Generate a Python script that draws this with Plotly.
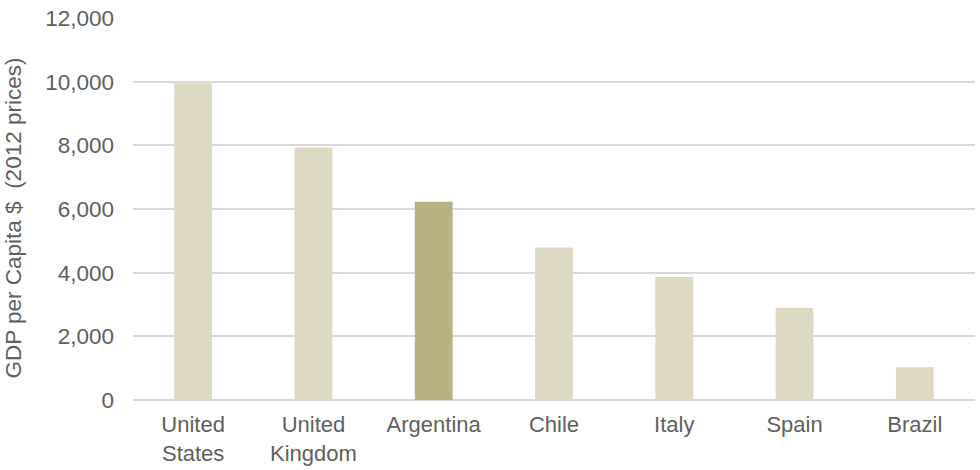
import plotly.graph_objects as go

# GDP per capita, 2012 prices
countries = ["United<br>States", "United<br>Kingdom", "Argentina", "Chile", "Italy", "Spain", "Brazil"]
gdp_per_capita = [9950, 7930, 6230, 4790, 3860, 2900, 1030]
highlight = "Argentina"

y_ticks = [0, 2000, 4000, 6000, 8000, 10000, 12000]
y_title = "GDP per Capita $ \u00a0(2012 prices)"

BAR = "#DDD9C3"
BAR_HI = "#B8B180"
TEXT = "#606060"
GRID = "#D9D9D9"

colors = [BAR_HI if c == highlight else BAR for c in countries]

fig = go.Figure(go.Bar(
    x=countries,
    y=gdp_per_capita,
    marker_color=colors,
    marker_line_width=0,
    width=0.315,
    hoverinfo="x+y",
))

fig.update_layout(
    width=980,
    height=470,
    paper_bgcolor="white",
    plot_bgcolor="white",
    showlegend=False,
    margin=dict(l=133, r=5, t=18, b=70),
    font=dict(family="Liberation Sans, Arial, sans-serif", size=22, color=TEXT),
)

fig.update_xaxes(
    showgrid=False,
    showline=False,
    zeroline=False,
    ticks="",
    ticklabelstandoff=9,
    tickfont=dict(size=22, color=TEXT),
    automargin=False,
)

fig.update_yaxes(
    range=[0, 12000],
    tickvals=y_ticks,
    tickformat=",d",
    showgrid=True,
    gridcolor=GRID,
    gridwidth=2,
    zeroline=True,
    zerolinecolor=GRID,
    zerolinewidth=2,
    showline=False,
    ticks="",
    ticklabelstandoff=18,
    tickfont=dict(size=22.5, color=TEXT),
    automargin=False,
)

# y-axis title as an annotation so it can sit a little below centre like the original
fig.add_annotation(
    text=y_title,
    textangle=-90,
    xref="paper", yref="paper",
    x=-119 / 842, y=0.475,
    xanchor="center", yanchor="middle",
    showarrow=False,
    font=dict(size=22.5, color=TEXT),
)

# the page wrapper adds an 8px body margin; drop it so the figure sits at 0,0
fig.write_html(
    "out.html",
    config={"displayModeBar": False},
    post_script="document.body.style.margin = '0';",
)
